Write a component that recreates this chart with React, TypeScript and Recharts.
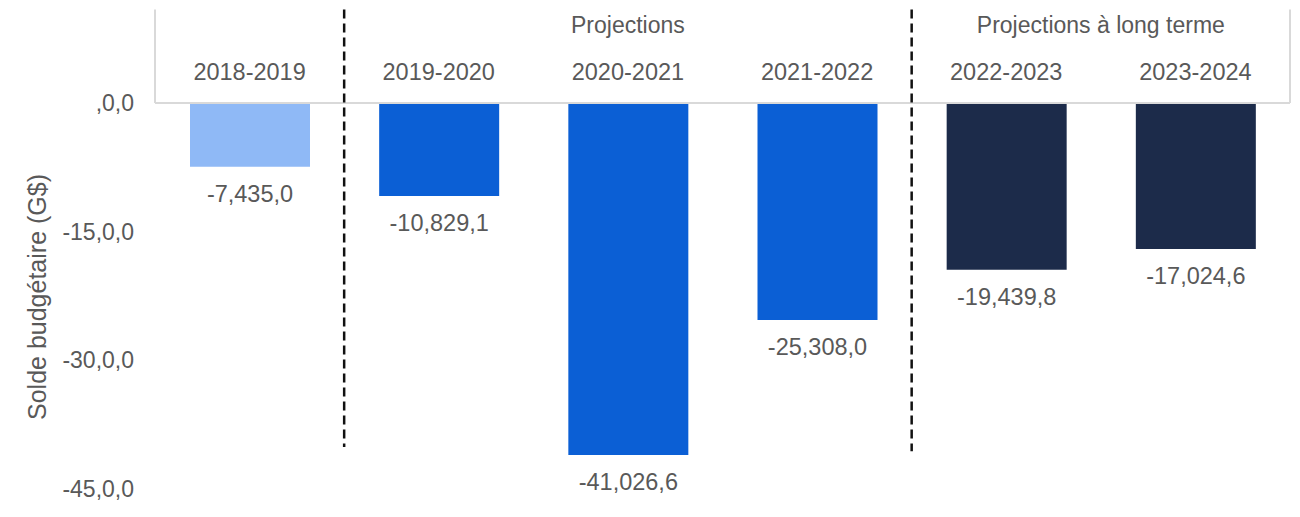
import { BarChart, Bar, XAxis, YAxis, Cell, LabelList, ReferenceLine } from 'recharts';

const categories = ['2018-2019', '2019-2020', '2020-2021', '2021-2022', '2022-2023', '2023-2024'];
const balances = [-7.435, -10.8291, -41.0266, -25.308, -19.4398, -17.0246];
const valueLabels = ['-7,435,0', '-10,829,1', '-41,026,6', '-25,308,0', '-19,439,8', '-17,024,6'];
const barColors = ['#8fb9f6', '#0b5fd5', '#0b5fd5', '#0b5fd5', '#1c2b4a', '#1c2b4a'];
const yTicks = [0, -15, -30, -45];
const yTickLabels = [',0,0', '-15,0,0', '-30,0,0', '-45,0,0'];
// header text anchored on a category, either at its centre ("middle") or its left edge ("start")
const groupHeaders = [
  { label: 'Projections', at: '2020-2021', position: 'middle' },
  { label: 'Projections à long terme', at: '2023-2024', position: 'start' },
];
const dividers = [
  { at: '2019-2020', bottom: -40.1 },
  { at: '2022-2023', bottom: -40.6 },
];

const data = categories.map((name, i) => ({ name, value: balances[i], label: valueLabels[i] }));

const FONT = '"Liberation Sans", Arial, sans-serif';
const TEXT = '#595959';
const BOX = '#d9d9d9';
const HEADER_TOP = 10.9;
const HEADER_TEXT_Y = 9.1;

const CategoryTick = ({ x, payload }: any) => (
  <text x={x} y={72} textAnchor="middle" dominantBaseline="central" fill={TEXT} fontSize={23.5} fontFamily={FONT}>
    {payload.value}
  </text>
);

const ValueTick = ({ y, payload }: any) => (
  <text x={134} y={y} textAnchor="end" dominantBaseline="central" fill={TEXT} fontSize={23} fontFamily={FONT}>
    {yTickLabels[yTicks.indexOf(payload.value)]}
  </text>
);

const BarValue = (props: any) => {
  const { x, y, width, height, index } = props;
  const bottom = Math.max(y, y + height);
  return (
    <text x={x + width / 2} y={bottom + 27} textAnchor="middle" dominantBaseline="central" fill={TEXT} fontSize={23.5} fontFamily={FONT}>
      {valueLabels[index]}
    </text>
  );
};

export default function App() {
  const first = categories[0];
  const last = categories[categories.length - 1];
  return (
    <div style={{ position: 'absolute', left: 0, top: 0, background: '#fff' }}>
      <BarChart width={1300} height={517} data={data} margin={{ top: 0, right: 10, bottom: 28, left: 0 }}>
        <XAxis dataKey="name" orientation="top" height={103} axisLine={false} tickLine={false} tick={<CategoryTick />} interval={0} />
        <YAxis
          domain={[-45, 0]}
          ticks={yTicks}
          width={155}
          axisLine={false}
          tickLine={false}
          tick={<ValueTick />}
          label={() => (
            <text x={37} y={297} transform="rotate(-90 37 297)" textAnchor="middle" dominantBaseline="central" fill={TEXT} fontSize={25} fontFamily={FONT}>
              Solde budgétaire (G$)
            </text>
          )}
        />
        <Bar dataKey="value" barSize={120} isAnimationActive={false}>
          {data.map((d, i) => (
            <Cell key={d.name} fill={barColors[i]} />
          ))}
          <LabelList dataKey="label" content={<BarValue />} />
        </Bar>
        <ReferenceLine y={0} stroke={BOX} strokeWidth={2} ifOverflow="visible" />
        <ReferenceLine segment={[{ x: first, y: 0 }, { x: first, y: HEADER_TOP }]} position="start" stroke={BOX} strokeWidth={2} ifOverflow="visible" />
        <ReferenceLine segment={[{ x: last, y: 0 }, { x: last, y: HEADER_TOP }]} position="end" stroke={BOX} strokeWidth={2} ifOverflow="visible" />
        {dividers.map((d) => (
          <ReferenceLine
            key={d.at}
            segment={[{ x: d.at, y: HEADER_TOP }, { x: d.at, y: d.bottom }]}
            position="start"
            stroke="#111"
            strokeWidth={2.5}
            strokeDasharray="9 5"
            ifOverflow="visible"
          />
        ))}
        {groupHeaders.map((g) => (
          <ReferenceLine
            key={g.label}
            segment={[{ x: g.at, y: HEADER_TEXT_Y }, { x: g.at, y: HEADER_TEXT_Y }]}
            position={g.position as any}
            stroke="none"
            ifOverflow="visible"
            label={{ value: g.label, position: 'center', fill: TEXT, fontSize: 23, fontFamily: FONT }}
          />
        ))}
      </BarChart>
    </div>
  );
}
